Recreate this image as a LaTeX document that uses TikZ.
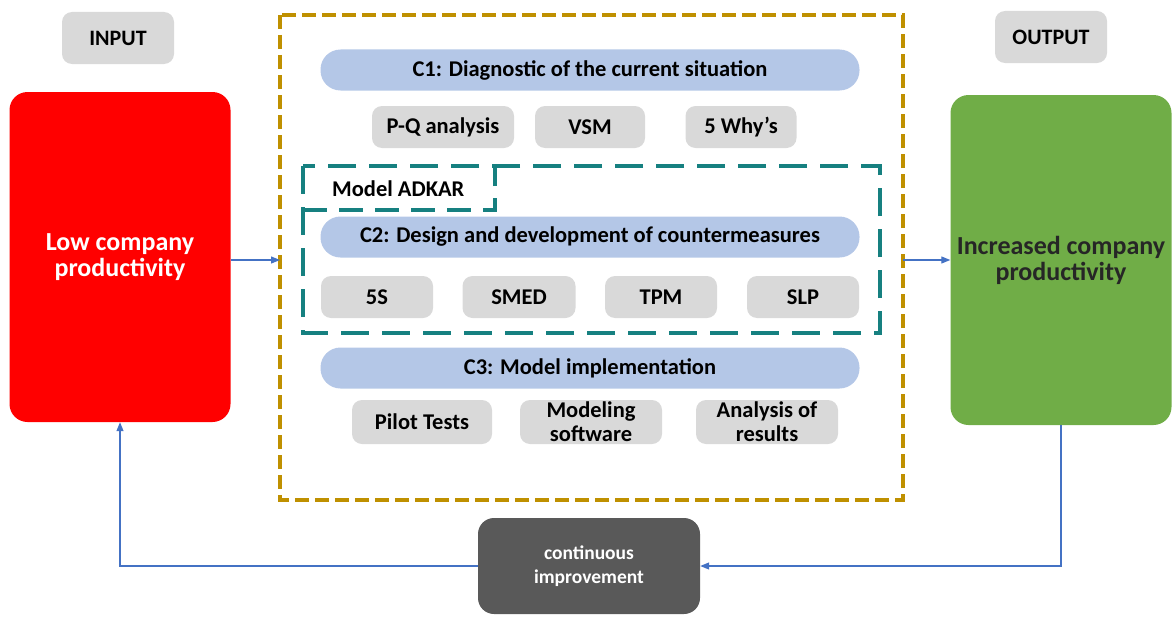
\documentclass[tikz,border=0pt]{standalone}
\usepackage{fontspec}
\setmainfont{Carlito}
\usetikzlibrary{arrows.meta,positioning}
\definecolor{chipgray}{HTML}{D9D9D9}
\definecolor{pillblue}{HTML}{B4C7E7}
\definecolor{lowred}{HTML}{FF0000}
\definecolor{highgreen}{HTML}{70AD47}
\definecolor{darkbox}{HTML}{595959}
\definecolor{goldline}{HTML}{BF9000}
\definecolor{tealline}{HTML}{168080}
\definecolor{linkblue}{HTML}{4472C4}
\tikzset{
  chip/.style={fill=chipgray, rounded corners=10pt, font=\bfseries\fontsize{22.5}{24}\selectfont, align=center, inner sep=0pt},
  pill/.style={fill=pillblue, rounded corners=20pt, minimum width=539pt, minimum height=41pt, font=\bfseries\fontsize{22.5}{24}\selectfont, inner sep=0pt},
  bigbox/.style={rounded corners=18pt, minimum width=221pt, minimum height=330pt, font=\bfseries\fontsize{26}{26}\selectfont, align=center, inner sep=0pt},
  link/.style={draw=linkblue, line width=1.2pt, -{Triangle[length=9pt,width=7pt]}},
  goldframe/.style={draw=goldline, line width=3.5pt, dash pattern=on 14pt off 6pt},
  tealframe/.style={draw=tealline, line width=3.5pt, dash pattern=on 28pt off 13pt},
}
\begin{document}
\begin{tikzpicture}[x=1pt,y=-1pt]
\useasboundingbox (0,0) rectangle (1174,618);

% input / output labels
\node[chip, minimum width=112pt, minimum height=52pt, font=\bfseries\fontsize{22}{24}\selectfont] (inlabel) at (118,38) {INPUT};
\node[chip, minimum width=112pt, minimum height=52pt, font=\bfseries\fontsize{22}{24}\selectfont] (outlabel) at (1051,37) {OUTPUT};

% side boxes
\node[bigbox, fill=lowred, text=white] (low) at (120,257) {Low company\\productivity};
\node[bigbox, fill=highgreen, text=black!85] (high) at (1061,260) {Increased company\\productivity};

% main frame
\coordinate (gA) at (280,15);
\coordinate (gB) at (903,500);
\draw[goldframe] (gA) rectangle (gB);
\coordinate (gW) at (280,260);
\coordinate (gE) at (903,260);

% C1 block
\node[pill] (c1) at (590,70) {C1: Diagnostic of the current situation};
\node[chip, minimum width=142pt, minimum height=42pt] (pq) at (443,127) {P-Q analysis};
\node[chip, minimum width=110pt, minimum height=42pt] (vsm) at (590,127) {VSM};
\node[chip, minimum width=111pt, minimum height=42pt] (why) at (741,127) {5 Why’s};

% ADKAR frame with its tab
\coordinate (tA) at (303,166);
\coordinate (tB) at (880,333);
\draw[tealframe] (tA) rectangle (tB);
\coordinate (tabL) at (303,210);
\coordinate (tabC) at (495,210);
\coordinate (tabT) at (495,166);
\draw[tealframe, dash pattern=on 24pt off 12pt] (tabL) -- (tabC) -- (tabT);
\node[font=\bfseries\fontsize{22.5}{24}\selectfont, anchor=west, inner sep=0pt] (adkar) at (332,189) {Model ADKAR};

% C2 block
\node[pill] (c2) at (590,237) {C2: Design and development of countermeasures};
\node[chip, minimum width=112pt, minimum height=42pt] (fives) at (377,297) {5S};
\node[chip, minimum width=113pt, minimum height=42pt] (smed) at (519,297) {SMED};
\node[chip, minimum width=112pt, minimum height=42pt] (tpm) at (661,297) {TPM};
\node[chip, minimum width=112pt, minimum height=42pt] (slp) at (803,297) {SLP};

% C3 block
\node[pill] (c3) at (590,368) {C3: Model implementation};
\node[chip, minimum width=140pt, minimum height=44pt] (pilot) at (422,422) {Pilot Tests};
\node[chip, minimum width=142pt, minimum height=44pt] (soft) at (591,422) {Modeling\\software};
\node[chip, minimum width=142pt, minimum height=44pt] (res) at (767,422) {Analysis of\\results};

% feedback box
\node[fill=darkbox, text=white, rounded corners=16pt, minimum width=222pt, minimum height=96pt, font=\bfseries\fontsize{19.5}{24}\selectfont, align=center, inner sep=0pt] (ci) at (589,566) {continuous\\improvement};

% connectors
\draw[link] (low.east |- gW) -- (gW);
\draw[link] (gE) -- (high.west |- gE);
\draw[link] (high.south) |- (ci.east);
\draw[link] (ci.west) -| (low.south);
\end{tikzpicture}
\end{document}
